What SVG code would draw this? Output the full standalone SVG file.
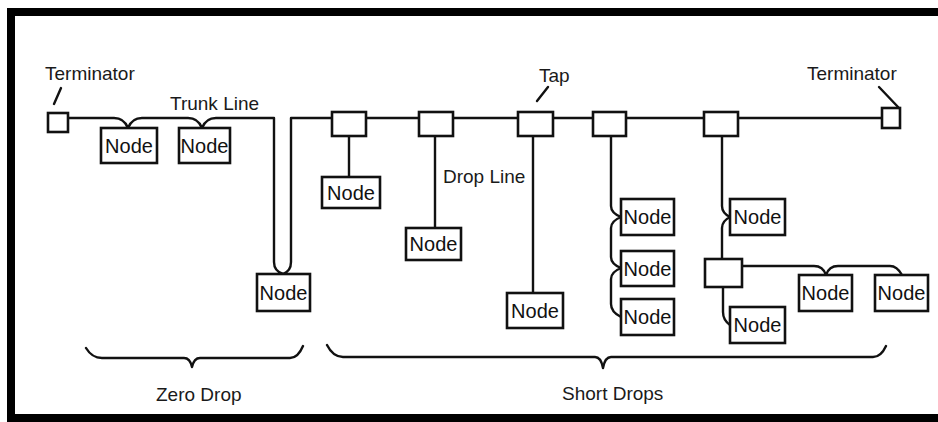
<svg xmlns="http://www.w3.org/2000/svg" width="938" height="422" viewBox="0 0 938 422">
<style>
.box{fill:#fff;stroke:#111;stroke-width:2.6}
.ln{fill:none;stroke:#111;stroke-width:2.4;stroke-linejoin:round;stroke-linecap:round}
.nt{font-family:"Liberation Sans",Arial,sans-serif;font-size:20px;fill:#111;text-anchor:middle}
.lb{font-family:"Liberation Sans",Arial,sans-serif;font-size:19px;fill:#1a1a1a}
</style>
<rect x="0" y="0" width="938" height="422" fill="#fff"/>
<rect x="11" y="12" width="940" height="406" fill="none" stroke="#000" stroke-width="8"/>

<g id="connectors">
  <!-- left trunk with zero-drop loop -->
  <path class="ln" d="M68,118 H114 Q124,118 128,128 Q132,118 142,118 H188 Q198,118 202,128 Q206,118 216,118 H274 V262 Q274,271 283,274"/>
  <path class="ln" d="M283,274 Q291,271 291,262 V118 H882"/>
  <!-- drops -->
  <path class="ln" d="M349,136 V177"/>
  <path class="ln" d="M435,136 V228"/>
  <path class="ln" d="M533,136 V293"/>
  <path class="ln" d="M611,136 V206 Q611,213 621,217 Q611,221 611,228 V257 Q611,264 621,268 Q611,272 611,279 V304 Q611,312 621,317"/>
  <path class="ln" d="M722,136 V206 Q722,213 730,217 Q722,221 722,228 V259"/>
  <path class="ln" d="M723,287 V312 Q723,320 730,325"/>
  <path class="ln" d="M742,266 H814 Q823,266 826,275 Q829,266 838,266 H890 Q897,266 902,275"/>
  <!-- pointer slashes -->
  <path class="ln" d="M54,104 L61,88"/>
  <path class="ln" d="M879,87 L899,108"/>
  <path class="ln" d="M537,101 L548,87"/>
</g>

<g id="terminator-left"><rect class="box" x="48" y="113" width="20" height="19"/></g>
<g id="terminator-right"><rect class="box" x="882" y="108" width="18" height="20"/></g>

<g id="tap1"><rect class="box" x="332" y="112" width="34" height="24"/></g>
<g id="tap2"><rect class="box" x="419" y="112" width="34" height="24"/></g>
<g id="tap3"><rect class="box" x="518" y="112" width="35" height="24"/></g>
<g id="tap4"><rect class="box" x="593" y="112" width="33" height="24"/></g>
<g id="tap5"><rect class="box" x="704" y="112" width="34" height="24"/></g>
<g id="tap6"><rect class="box" x="705" y="259" width="37" height="28"/></g>

<g id="node1"><rect class="box" x="101" y="128" width="56" height="35"/><text class="nt" x="129" y="153">Node</text></g>
<g id="node2"><rect class="box" x="179" y="128" width="51" height="35"/><text class="nt" x="204.5" y="153">Node</text></g>
<g id="node3"><rect class="box" x="257" y="274" width="53" height="37"/><text class="nt" x="283.5" y="300">Node</text></g>
<g id="node4"><rect class="box" x="322" y="177" width="58" height="31"/><text class="nt" x="351" y="200">Node</text></g>
<g id="node5"><rect class="box" x="406" y="228" width="55" height="32"/><text class="nt" x="433.5" y="251">Node</text></g>
<g id="node6"><rect class="box" x="507" y="293" width="56" height="35"/><text class="nt" x="535" y="318">Node</text></g>
<g id="node7"><rect class="box" x="621" y="199" width="53" height="36"/><text class="nt" x="647.5" y="224">Node</text></g>
<g id="node8"><rect class="box" x="621" y="251" width="53" height="35"/><text class="nt" x="647.5" y="276">Node</text></g>
<g id="node9"><rect class="box" x="621" y="299" width="53" height="36"/><text class="nt" x="647.5" y="324">Node</text></g>
<g id="node10"><rect class="box" x="730" y="199" width="55" height="36"/><text class="nt" x="757.5" y="224">Node</text></g>
<g id="node11"><rect class="box" x="730" y="307" width="55" height="36"/><text class="nt" x="757.5" y="332">Node</text></g>
<g id="node12"><rect class="box" x="799" y="275" width="53" height="36"/><text class="nt" x="825.5" y="300">Node</text></g>
<g id="node13"><rect class="box" x="875" y="275" width="53" height="36"/><text class="nt" x="901.5" y="300">Node</text></g>

<g id="braces">
  <path class="ln" d="M86,348 Q92,358 102,358 H184 Q190,358 192,367 Q194,358 200,358 H290 Q298,358 303,346"/>
  <path class="ln" d="M327,345 Q333,357 343,357 H595 Q601,357 603,368 Q605,357 611,357 H873 Q881,357 886,346"/>
</g>

<g id="labels">
  <text class="lb" x="45" y="80">Terminator</text>
  <text class="lb" x="807" y="80">Terminator</text>
  <text class="lb" x="170" y="110">Trunk Line</text>
  <text class="lb" x="539" y="82">Tap</text>
  <text class="lb" x="443" y="183">Drop Line</text>
  <text class="lb" x="156" y="401">Zero Drop</text>
  <text class="lb" x="562" y="400">Short Drops</text>
</g>
</svg>
